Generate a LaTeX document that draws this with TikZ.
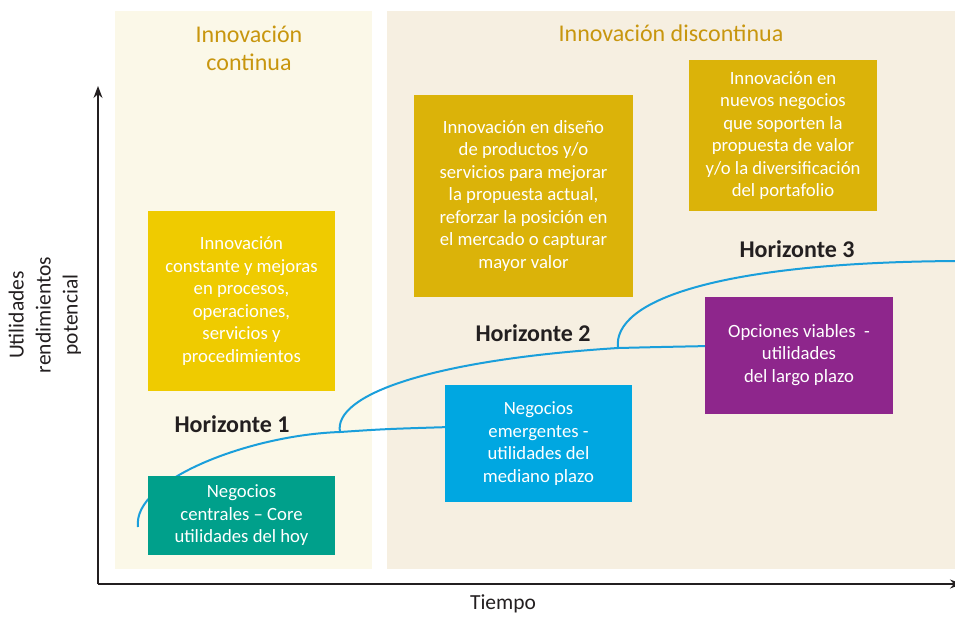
\documentclass[tikz,border=0pt]{standalone}
\usepackage{fontspec}
\setmainfont{Carlito}
\usetikzlibrary{arrows.meta}
\definecolor{panelA}{HTML}{FBF8E8}
\definecolor{panelB}{HTML}{F6EFE1}
\definecolor{headcol}{HTML}{C8960E}
\definecolor{yellowbox}{HTML}{EFCB00}
\definecolor{mustard}{HTML}{DBB309}
\definecolor{tealbox}{HTML}{00A08B}
\definecolor{bluebox}{HTML}{00A7E1}
\definecolor{purplebox}{HTML}{8E268C}
\definecolor{curvecol}{HTML}{1A9FDB}
\definecolor{axiscol}{HTML}{231F20}
\tikzset{
  box/.style={inner sep=0pt, align=center, text=white,
    font=\fontsize{18.7}{22.5}\selectfont},
  header/.style={align=center, text=headcol, font=\fontsize{24}{28}\selectfont},
  horiz/.style={font=\fontsize{24}{28}\selectfont\bfseries, text=axiscol},
  axislabel/.style={align=center, text=axiscol, font=\fontsize{21.5}{27}\selectfont},
  curve/.style={draw=curvecol, line width=2pt},
  axis/.style={draw=axiscol, line width=1.4pt, -{Stealth[length=12pt,width=9pt]}}
}
\begin{document}
\begin{tikzpicture}[x=1pt,y=-1pt]
\clip (0,0) rectangle (955,616);
\fill[white] (0,0) rectangle (955,616);
% panels
\fill[panelA] (115,11) rectangle (372,569);
\fill[panelB] (387,11) rectangle (960,569);
\node[header] (hA) at (249,48) {Innovación\\continua};
\node[header] (hB) at (671,33) {Innovación discontinua};
% axes
\coordinate (O) at (98,584);
\coordinate (ytip) at (98,86);
\coordinate (xtip) at (962,584);
\draw[axis] (O) -- (ytip);
\draw[axis] (O) -- (xtip);
\node[axislabel, rotate=90] (ylab) at (45,315) {Utilidades\\rendimientos\\potencial};
\node[axislabel] (xlab) at (503,604) {Tiempo};
% curves
\coordinate (c1s) at (138,527);
\coordinate (j1) at (340,432);
\coordinate (e1) at (450,427);
\coordinate (j2) at (618,348);
\coordinate (e2) at (710,346);
\coordinate (e3) at (960,261);
\draw[curve] (c1s) .. controls (132,480) and (250,435) .. (j1) .. controls (385,429) .. (e1);
\draw[curve] (j1) .. controls (333,395) and (430,360) .. (j2) .. controls (660,347) .. (e2);
\draw[curve] (j2) .. controls (612,300) and (720,262) .. (e3);
% boxes
\node[box, fill=yellowbox, minimum width=187pt, minimum height=180pt] (b1) at (241.5,301)
  {Innovación\\constante y mejoras\\en procesos,\\operaciones,\\servicios y\\procedimientos};
\node[box, fill=mustard, minimum width=219pt, minimum height=202pt] (b2) at (523.5,196)
  {Innovación en diseño\\de productos y/o\\servicios para mejorar\\la propuesta actual,\\reforzar la posición en\\el mercado o capturar\\mayor valor};
\node[box, fill=mustard, minimum width=188pt, minimum height=151pt] (b3) at (783,135.5)
  {Innovación en\\nuevos negocios\\que soporten la\\propuesta de valor\\y/o la diversificación\\del portafolio};
\node[box, fill=tealbox, minimum width=187pt, minimum height=79pt] (b4) at (241.5,515.5)
  {Negocios\\centrales – Core\\utilidades del hoy};
\node[box, fill=bluebox, minimum width=187pt, minimum height=117pt] (b5) at (538.5,443.5)
  {Negocios\\emergentes -\\utilidades del\\mediano plazo};
\node[box, fill=purplebox, minimum width=188pt, minimum height=117pt] (b6) at (799,355)
  {Opciones viables\ \ -\\utilidades\\del largo plazo};
% horizon labels
\node[horiz] (h1) at (232,424) {Horizonte 1};
\node[horiz] (h2) at (533,333) {Horizonte 2};
\node[horiz] (h3) at (797,249) {Horizonte 3};
\end{tikzpicture}
\end{document}
